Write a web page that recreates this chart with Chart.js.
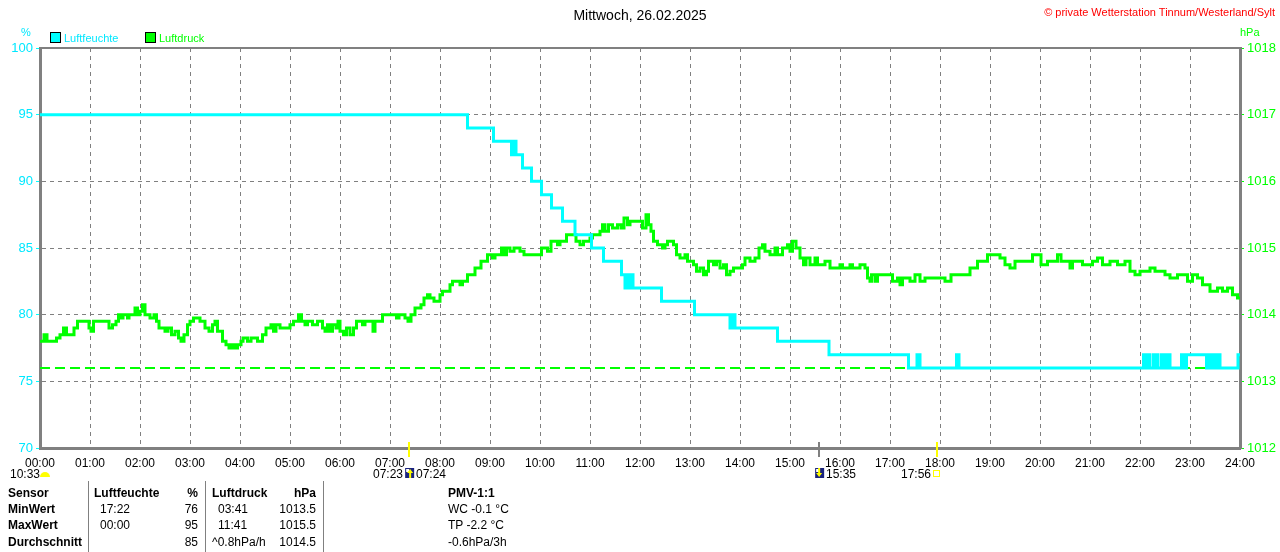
<!DOCTYPE html>
<html>
<head>
<meta charset="utf-8">
<script src="https://cdn.jsdelivr.net/npm/chart.js@4.4.1/dist/chart.umd.min.js"></script>
<style>
  html, body { margin: 0; padding: 0; background: #fff; }
  #wrap { position: relative; width: 1280px; height: 552px; overflow: hidden; font-family: "Liberation Sans", Arial, sans-serif; }
  #wrap canvas { position: absolute; left: 0; top: 0; }
  .t { position: absolute; white-space: nowrap; font-size: 12px; line-height: 14px; color: #000; }
  .b { font-weight: bold; }
  .r { text-align: right; }
  .sep { position: absolute; top: 481px; width: 1px; height: 71px; background: #808080; }
  .box { position: absolute; width: 9px; height: 9px; border: 1px solid #000; }
</style>
</head>
<body>
<div id="wrap">
  <canvas id="chart" width="1280" height="552"></canvas>

  <div class="t" style="left:0;width:1280px;top:7px;text-align:center;font-size:14px;line-height:16px;">Mittwoch, 26.02.2025</div>
  <div class="t" style="right:5px;top:5px;font-size:11px;color:#ff0000;">© private Wetterstation Tinnum/Westerland/Sylt</div>

  <div class="t" style="left:21px;top:25px;font-size:11px;color:#00e8ff;">%</div>
  <div class="t" style="left:1240px;top:25px;font-size:11px;color:#00ff00;">hPa</div>

  <div class="box" style="left:50px;top:32px;background:#00ffff;"></div>
  <div class="t" style="left:64px;top:31px;font-size:11px;color:#00e8ff;">Luftfeuchte</div>
  <div class="box" style="left:145px;top:32px;background:#00ff00;"></div>
  <div class="t" style="left:159px;top:31px;font-size:11px;color:#00ff00;">Luftdruck</div>

  <div class="t" style="left:10px;top:467px;">10:33</div>
  <div class="t r" style="right:877px;top:467px;">07:23</div>
  <div class="t" style="left:416px;top:467px;">07:24</div>
  <div class="t" style="left:826px;top:467px;">15:35</div>
  <div class="t r" style="right:349px;top:467px;">17:56</div>

  <div class="sep" style="left:88px;"></div>
  <div class="sep" style="left:205px;"></div>
  <div class="sep" style="left:323px;"></div>

  <div class="t b" style="left:8px;top:486px;">Sensor</div>
  <div class="t b" style="left:8px;top:502px;">MinWert</div>
  <div class="t b" style="left:8px;top:518px;">MaxWert</div>
  <div class="t b" style="left:8px;top:535px;">Durchschnitt</div>

  <div class="t b" style="left:94px;top:486px;">Luftfeuchte</div>
  <div class="t b r" style="right:1082px;top:486px;">%</div>
  <div class="t" style="left:100px;top:502px;">17:22</div>
  <div class="t r" style="right:1082px;top:502px;">76</div>
  <div class="t" style="left:100px;top:518px;">00:00</div>
  <div class="t r" style="right:1082px;top:518px;">95</div>
  <div class="t r" style="right:1082px;top:535px;">85</div>

  <div class="t b" style="left:212px;top:486px;">Luftdruck</div>
  <div class="t b r" style="right:964px;top:486px;">hPa</div>
  <div class="t" style="left:218px;top:502px;">03:41</div>
  <div class="t r" style="right:964px;top:502px;">1013.5</div>
  <div class="t" style="left:218px;top:518px;">11:41</div>
  <div class="t r" style="right:964px;top:518px;">1015.5</div>
  <div class="t" style="left:212px;top:535px;">^0.8hPa/h</div>
  <div class="t r" style="right:964px;top:535px;">1014.5</div>

  <div class="t b" style="left:448px;top:486px;">PMV-1:1</div>
  <div class="t" style="left:448px;top:502px;">WC -0.1 °C</div>
  <div class="t" style="left:448px;top:518px;">TP -2.2 °C</div>
  <div class="t" style="left:448px;top:535px;">-0.6hPa/3h</div>
</div>

<script>
// Luftfeuchte in %, [Stunde, Wert]
const humidityPoints = [
  [0, 95], [8.55, 94], [9.07, 93], [9.43, 92], [9.45, 93], [9.47, 92], [9.49, 93], [9.52, 92],
  [9.65, 91], [9.83, 90], [10.03, 89], [10.23, 88], [10.45, 87], [10.7, 86], [11.03, 85],
  [11.27, 84], [11.63, 83], [11.7, 82], [11.72, 83], [11.75, 82], [11.8, 83], [11.86, 82],
  [12.43, 81], [13.09, 80], [13.8, 79], [13.86, 80], [13.9, 79], [14.75, 78], [15.78, 77],
  [17.37, 76], [17.54, 77], [17.6, 76], [18.33, 77], [18.38, 76],
  [22.07, 77], [22.09, 76], [22.12, 77], [22.14, 76], [22.17, 77], [22.2, 76], [22.27, 77],
  [22.29, 76], [22.33, 77], [22.36, 76], [22.43, 77], [22.47, 76], [22.5, 77], [22.55, 76],
  [22.57, 77], [22.6, 76], [22.83, 77], [22.86, 76], [22.88, 77], [22.91, 76], [22.93, 77],
  [23.33, 76], [23.36, 77], [23.4, 76], [23.43, 77], [23.47, 76], [23.5, 77], [23.55, 76],
  [23.57, 77], [23.6, 76], [23.96, 77], [24, 77]
]

// Luftdruck in hPa, [Stunde, Wert]
const pressurePoints = [
  [0, 1013.6], [0.08, 1013.7], [0.14, 1013.6], [0.33, 1013.65], [0.4, 1013.7], [0.47, 1013.8],
  [0.53, 1013.7], [0.68, 1013.8], [0.75, 1013.9], [0.98, 1013.8], [1.02, 1013.75], [1.07, 1013.9],
  [1.38, 1013.8], [1.45, 1013.85], [1.52, 1013.9], [1.57, 1014.0], [1.62, 1013.95], [1.66, 1014.0],
  [1.75, 1013.95], [1.78, 1014.0], [1.9, 1014.1], [1.95, 1014.0], [2.0, 1014.05], [2.05, 1014.15],
  [2.1, 1014.0], [2.2, 1013.95], [2.28, 1014.0], [2.33, 1013.9], [2.38, 1013.8], [2.5, 1013.75],
  [2.56, 1013.8], [2.63, 1013.7], [2.7, 1013.75], [2.77, 1013.65], [2.82, 1013.6], [2.88, 1013.7],
  [2.95, 1013.85], [3.0, 1013.9], [3.07, 1013.95], [3.2, 1013.9], [3.3, 1013.8], [3.38, 1013.75],
  [3.45, 1013.85], [3.5, 1013.9], [3.55, 1013.75], [3.65, 1013.6], [3.72, 1013.55], [3.78, 1013.5],
  [3.84, 1013.55], [3.9, 1013.5], [3.95, 1013.55], [4.02, 1013.6], [4.06, 1013.65], [4.15, 1013.6],
  [4.22, 1013.65], [4.35, 1013.6], [4.45, 1013.7], [4.52, 1013.8], [4.62, 1013.85], [4.67, 1013.75],
  [4.72, 1013.85], [4.8, 1013.8], [5.0, 1013.85], [5.07, 1013.9], [5.17, 1014.0], [5.23, 1013.9],
  [5.3, 1013.85], [5.35, 1013.9], [5.45, 1013.85], [5.55, 1013.9], [5.65, 1013.8], [5.7, 1013.75],
  [5.75, 1013.85], [5.8, 1013.75], [5.85, 1013.85], [5.92, 1013.8], [5.96, 1013.9], [6.0, 1013.75],
  [6.07, 1013.7], [6.13, 1013.8], [6.2, 1013.7], [6.27, 1013.8], [6.33, 1013.9], [6.45, 1013.85],
  [6.5, 1013.9], [6.66, 1013.75], [6.7, 1013.9], [6.85, 1014.0], [7.13, 1013.95], [7.18, 1014.0],
  [7.3, 1013.95], [7.36, 1013.9], [7.42, 1014.0], [7.5, 1014.1], [7.62, 1014.15], [7.68, 1014.25],
  [7.75, 1014.3], [7.8, 1014.25], [7.88, 1014.2], [8.0, 1014.3], [8.05, 1014.35], [8.2, 1014.45],
  [8.25, 1014.5], [8.4, 1014.45], [8.45, 1014.5], [8.55, 1014.6], [8.7, 1014.7], [8.82, 1014.8],
  [8.95, 1014.9], [9.05, 1014.85], [9.1, 1014.9], [9.23, 1015.0], [9.28, 1014.9], [9.33, 1015.0],
  [9.4, 1014.95], [9.48, 1015.0], [9.6, 1014.95], [9.68, 1014.9], [10.03, 1015.0], [10.15, 1014.95],
  [10.22, 1015.1], [10.35, 1015.05], [10.4, 1015.1], [10.53, 1015.2], [10.72, 1015.1], [10.8, 1015.05],
  [10.87, 1015.1], [11.0, 1015.15], [11.05, 1015.2], [11.2, 1015.25], [11.25, 1015.35], [11.3, 1015.25],
  [11.37, 1015.35], [11.45, 1015.3], [11.55, 1015.35], [11.62, 1015.3], [11.68, 1015.45], [11.75, 1015.35],
  [11.8, 1015.4], [12.05, 1015.3], [12.12, 1015.5], [12.17, 1015.35], [12.22, 1015.25], [12.27, 1015.1],
  [12.35, 1015.05], [12.45, 1015.0], [12.5, 1015.05], [12.55, 1015.1], [12.67, 1015.05], [12.73, 1014.9],
  [12.8, 1014.85], [12.9, 1014.9], [12.95, 1014.8], [13.07, 1014.75], [13.13, 1014.65], [13.2, 1014.7],
  [13.27, 1014.6], [13.33, 1014.65], [13.37, 1014.8], [13.47, 1014.75], [13.53, 1014.8], [13.6, 1014.7],
  [13.67, 1014.75], [13.73, 1014.6], [13.8, 1014.65], [13.87, 1014.7], [14.05, 1014.75], [14.1, 1014.85],
  [14.2, 1014.8], [14.3, 1014.85], [14.38, 1015.0], [14.45, 1015.05], [14.5, 1014.95], [14.6, 1014.9],
  [14.7, 1015.0], [14.75, 1014.9], [14.85, 1015.0], [14.95, 1015.05], [15.0, 1014.95], [15.05, 1015.1],
  [15.12, 1015.0], [15.2, 1014.85], [15.27, 1014.75], [15.32, 1014.85], [15.4, 1014.75], [15.5, 1014.85],
  [15.55, 1014.75], [15.7, 1014.8], [15.8, 1014.7], [16.0, 1014.75], [16.05, 1014.7], [16.2, 1014.75],
  [16.25, 1014.7], [16.4, 1014.75], [16.5, 1014.7], [16.55, 1014.55], [16.6, 1014.5], [16.63, 1014.6],
  [16.7, 1014.5], [16.75, 1014.6], [17.05, 1014.5], [17.15, 1014.55], [17.2, 1014.45], [17.25, 1014.55],
  [17.4, 1014.5], [17.5, 1014.6], [17.6, 1014.5], [17.7, 1014.55], [18.1, 1014.5], [18.22, 1014.6],
  [18.6, 1014.7], [18.75, 1014.8], [18.95, 1014.9], [19.2, 1014.85], [19.3, 1014.75], [19.4, 1014.7],
  [19.5, 1014.8], [19.85, 1014.9], [20.02, 1014.75], [20.15, 1014.8], [20.35, 1014.9], [20.42, 1014.8],
  [20.6, 1014.7], [20.65, 1014.8], [20.85, 1014.75], [21.05, 1014.8], [21.15, 1014.85], [21.25, 1014.75],
  [21.4, 1014.8], [21.55, 1014.75], [21.7, 1014.8], [21.8, 1014.65], [21.9, 1014.6], [22.0, 1014.65],
  [22.2, 1014.7], [22.3, 1014.65], [22.5, 1014.6], [22.6, 1014.55], [22.75, 1014.6], [22.95, 1014.5],
  [23.05, 1014.6], [23.15, 1014.55], [23.25, 1014.45], [23.4, 1014.35], [23.55, 1014.4], [23.65, 1014.35],
  [23.75, 1014.4], [23.85, 1014.3], [23.95, 1014.25], [24, 1014.25]
]

// Referenzlinie Luftdruck
const pressureRef = [[0, 1013.2], [24, 1013.2]]

// Sonne/Mond Markierungen unter der Zeitachse (Stunde)
const sunMarks = [
  { t: 7.383, color: "#ffff00" },
  { t: 15.583, color: "#808080" },
  { t: 17.933, color: "#ffff00" },
]

const toXY = (arr) => arr.map(([x, y]) => ({ x, y }))
const CYAN = "#00ffff"
const GREEN = "#00ff00"
const GRAY = "#808080"

const framePlugin = {
  id: "frame",
  afterDraw(chart) {
    const { ctx, chartArea: a, scales } = chart
    ctx.save()
    // top border
    ctx.strokeStyle = GRAY
    ctx.lineWidth = 2
    ctx.beginPath()
    ctx.moveTo(a.left, a.top)
    ctx.lineTo(a.right, a.top)
    ctx.stroke()

    // marks on the time axis
    sunMarks.forEach((m) => {
      const px = Math.round(scales.x.getPixelForValue(m.t))
      ctx.fillStyle = m.color
      ctx.fillRect(px - 1, a.bottom - 6, 2, 15)
    })

    // small icons
    const x1 = scales.x.getPixelForValue(7.383)
    const x2 = scales.x.getPixelForValue(15.583)
    const x3 = scales.x.getPixelForValue(17.933)
    ;[x1, x2].forEach((px, i) => {
      ctx.fillStyle = "#1a237e"
      ctx.fillRect(px - 4, 468, 9, 10)
      ctx.fillStyle = "#ffffff"
      ctx.fillRect(px - 3, 469, 3, 3)
      ctx.fillStyle = "#ffff00"
      ctx.beginPath()
      if (i === 0) {
        ctx.moveTo(px + 1, 469); ctx.lineTo(px + 4, 473); ctx.lineTo(px - 2, 473)
        ctx.fill()
        ctx.fillRect(px, 473, 2, 5)
      } else {
        ctx.fillRect(px - 1, 468, 2, 5)
        ctx.moveTo(px, 477); ctx.lineTo(px + 3, 473); ctx.lineTo(px - 3, 473)
        ctx.fill()
      }
    })
    ctx.strokeStyle = "#ffff00"
    ctx.lineWidth = 1
    ctx.strokeRect(Math.round(x3) - 3.5, 470.5, 6, 6)

    // half sun next to 10:33
    ctx.fillStyle = "#ffff00"
    ctx.beginPath()
    ctx.arc(45, 477, 5, Math.PI, 0)
    ctx.fill()
    ctx.restore()
  },
}

const ctx = document.getElementById("chart").getContext("2d")
const chart = new Chart(ctx, {
  type: "line",
  data: {
    datasets: [
      {
        label: "Luftfeuchte",
        data: toXY(humidityPoints),
        yAxisID: "y",
        borderColor: CYAN,
        borderWidth: 3,
        pointRadius: 0,
        stepped: true,
      },
      {
        label: "Luftdruck",
        data: toXY(pressurePoints),
        yAxisID: "y1",
        borderColor: GREEN,
        borderWidth: 3,
        pointRadius: 0,
        stepped: true,
      },
      {
        label: "Referenz",
        data: toXY(pressureRef),
        yAxisID: "y1",
        borderColor: GREEN,
        borderWidth: 2,
        borderDash: [10, 5],
        pointRadius: 0,
      },
    ],
  },
  options: {
    responsive: false,
    animation: false,
    devicePixelRatio: 1,
    events: [],
    layout: { padding: { top: 48, bottom: 80, left: 0, right: 0 } },
    plugins: { legend: { display: false }, tooltip: { enabled: false } },
    scales: {
      x: {
        type: "linear",
        min: 0,
        max: 24,
        afterFit: (s) => { s.height = 24 },
        ticks: {
          stepSize: 1,
          autoSkip: false,
          maxRotation: 0,
          padding: 8,
          color: "#000",
          font: { family: "Liberation Sans, Arial", size: 12 },
          callback: (v) => String(v).padStart(2, "0") + ":00",
        },
        grid: { color: GRAY, drawTicks: false, lineWidth: 1 },
        border: { color: GRAY, width: 3, dash: [4, 4] },
      },
      y: {
        position: "left",
        min: 70,
        max: 100,
        afterFit: (s) => { s.width = 40 },
        ticks: {
          stepSize: 5,
          padding: 3,
          color: "#00e8ff",
          font: { family: "Liberation Sans, Arial", size: 13 },
          callback: (v) => String(v),
        },
        grid: { color: GRAY, tickColor: CYAN, tickLength: 4, tickBorderDash: [], lineWidth: 1 },
        border: { color: GRAY, width: 3, dash: [4, 4] },
      },
      y1: {
        position: "right",
        min: 1012,
        max: 1018,
        afterFit: (s) => { s.width = 40 },
        ticks: {
          stepSize: 1,
          padding: 3,
          color: GREEN,
          font: { family: "Liberation Sans, Arial", size: 13 },
          callback: (v) => String(v),
        },
        grid: { drawOnChartArea: false, tickColor: GREEN, tickLength: 4, tickBorderDash: [] },
        border: { color: GRAY, width: 3 },
      },
    },
  },
  plugins: [framePlugin],
})
</script>
</body>
</html>
